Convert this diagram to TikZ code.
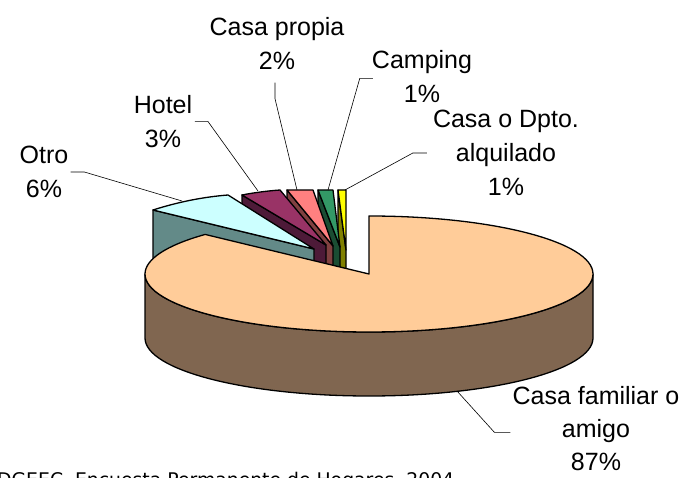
\documentclass[tikz,border=0pt]{standalone}
\usepackage{fontspec}
\setmainfont{Liberation Sans}
\newfontfamily\srcfont{DejaVu Sans}
\usepackage{xcolor}
\usepackage{tikz}
\definecolor{famtop}{HTML}{FFCC99}
\definecolor{famside}{HTML}{806650}
\definecolor{otrotop}{HTML}{CCFFFF}
\definecolor{otroside}{HTML}{638A88}
\definecolor{hoteltop}{HTML}{993366}
\definecolor{hotelside}{HTML}{4D1A38}
\definecolor{propiatop}{HTML}{FF8080}
\definecolor{propiaside}{HTML}{804040}
\definecolor{camptop}{HTML}{339966}
\definecolor{campside}{HTML}{1A4D33}
\definecolor{alqtop}{HTML}{FFFF00}
\definecolor{alqside}{HTML}{808000}

\begin{document}
\begin{tikzpicture}[x=1pt,y=1pt]
\tikzstyle{pieborder}=[draw=black, line width=1.3pt, line join=round]
\tikzstyle{leader}=[draw=black, line width=0.6pt]
\tikzstyle{lbl}=[anchor=north, align=center, inner sep=0pt, font=\fontsize{25}{34}\selectfont]
\useasboundingbox (0,0) rectangle (683,477);
% small slices, back to front
\path[fill=alqside, pieborder] (338,287) -- (346,227) -- (346,163) -- (338,223) -- cycle;
\path[fill=alqtop, pieborder] (346,227) -- (346,287) -- (338,287) -- cycle;
\path[fill=campside, pieborder] (318,287) -- (340,230) -- (340,166) -- (318,223) -- cycle;
\path[fill=camptop, pieborder] (340,230) -- (333,287) -- (318,287) -- cycle;
\path[fill=propiaside, pieborder] (287,287) -- (333,231) -- (333,167) -- (287,223) -- cycle;
\path[fill=propiatop, pieborder] (333,231) -- (313,287) -- (287,287) -- cycle;
\path[fill=hotelside, pieborder] (242,282) -- (326,232) -- (326,168) -- (242,218) -- cycle;
\path[fill=hoteltop, pieborder] (326,232) -- (280,287) .. controls (266,286) and (252,284) .. (242,282) -- cycle;
\path[fill=otroside, pieborder] (153,267) -- (314,228) -- (314,164) -- (153,203) -- cycle;
\path[fill=otrotop, pieborder] (314,228) -- (228,282) .. controls (203,280) and (178,275) .. (153,267) -- cycle;
% main slice
\path[fill=famside, pieborder] (145,203) -- (145,139) arc[start angle=180, end angle=360, x radius=224pt, y radius=58pt] -- (593,203) arc[start angle=0, end angle=-180, x radius=224pt, y radius=58pt] -- cycle;
\path[fill=famtop, pieborder] (369,203) -- (369,261) arc[start angle=90, end angle=-223, x radius=224pt, y radius=58pt] -- cycle;
% labels
\node[lbl] (otro) at (44,331) {Otro\\6\%};
\node[lbl] (hotel) at (163,382) {Hotel\\3\%};
\node[lbl] (propia) at (277,460) {Casa propia\\2\%};
\node[lbl] (camp) at (422,427) {Camping\\1\%};
\node[lbl] (alq) at (506,367) {Casa o Dpto.\\alquilado\\1\%};
\node[lbl, font=\fontsize{25}{33}\selectfont] (fam) at (596,91) {Casa familiar o\\amigo\\87\%};
\node[anchor=base west, inner sep=0pt, font=\srcfont\fontsize{18.8}{20}\selectfont] (src) at (-3,-9) {DGEEC, Encuesta Permanente de Hogares, 2004};
% leader lines
\coordinate (otro-end) at (182,276);
\coordinate (hotel-end) at (258,286);
\coordinate (propia-end) at (297,287);
\coordinate (camp-end) at (328,287);
\coordinate (alq-end) at (345,287);
\coordinate (fam-end) at (457,86);
\draw[leader] ([xshift=2pt]otro.east) -- ++(14,0) -- (otro-end);
\draw[leader] ([xshift=2.5pt]hotel.east) -- ++(13,0) -- (hotel-end);
\draw[leader] ([xshift=-2pt,yshift=-13pt]propia.south) -- ++(0,-16) -- (propia-end);
\draw[leader] ([xshift=1pt,yshift=-2pt]camp.west) -- ++(-13,0) -- (camp-end);
\draw[leader] ([xshift=-6pt]alq.west) -- ++(-14,0) -- (alq-end);
\draw[leader] ([xshift=-2pt,yshift=-4pt]fam.west) -- ++(-16,0) -- (fam-end);
\end{tikzpicture}
\end{document}
